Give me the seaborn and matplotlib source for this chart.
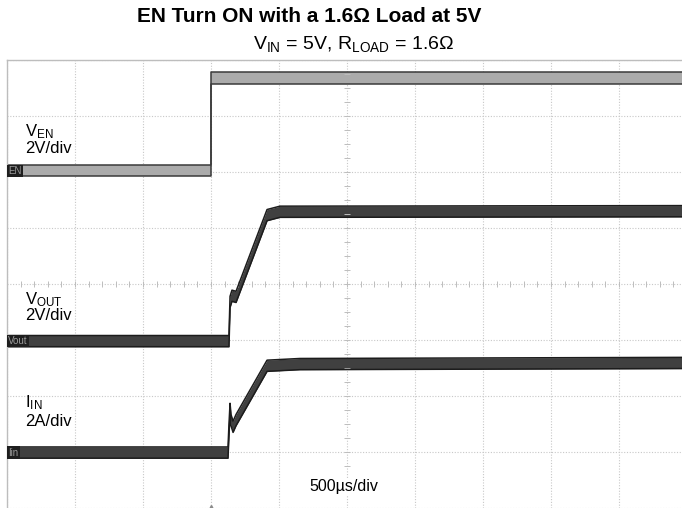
import numpy as np
import pandas as pd
import seaborn as sns
import matplotlib.pyplot as plt
import matplotlib.transforms as mtransforms

sns.set_style('white')
plt.rcParams['font.family'] = ['Liberation Sans', 'DejaVu Sans']
plt.rcParams['mathtext.fontset'] = 'custom'
plt.rcParams['mathtext.rm'] = 'Liberation Sans'
plt.rcParams['mathtext.it'] = 'Liberation Sans:italic'
plt.rcParams['mathtext.bf'] = 'Liberation Sans:bold'
plt.rcParams['text.color'] = 'black'

# scope screen: 500 us/div horizontally, values in divisions vertically
t_end = 4963

en_t = [0, 1500, 1500, t_end]
en_y = [6.02, 6.02, 7.68, 7.68]

vout_t = [0, 1632, 1640, 1654, 1684, 1912, 2007, t_end]
vout_y = [2.98, 2.98, 3.68, 3.79, 3.77, 5.23, 5.29, 5.30]

iin_t = [0, 1625, 1632, 1640, 1647, 1662, 1684, 1912, 2154, t_end]
iin_y = [0.99, 0.99, 1.39, 1.77, 1.57, 1.45, 1.57, 2.54, 2.57, 2.59]

fig = plt.figure(figsize=(6.82, 5.08), dpi=100)
ax = fig.add_axes([7 / 682, 0, 675 / 682, 448 / 508])
ax.set_xlim(0, t_end)
ax.set_ylim(0, 8)

# graticule
ax.set_xticks(np.arange(0, 5000, 500))
ax.set_yticks(np.arange(0, 9, 1))
ax.grid(True, linestyle=(0, (1, 1.5)), color='#c8c8c8', linewidth=0.8)
ax.tick_params(length=0, labelbottom=False, labelleft=False)
for s in ['right', 'bottom']:
    ax.spines[s].set_visible(False)
for s in ['top', 'left']:
    ax.spines[s].set_color('#bdbdbd')
    ax.spines[s].set_linewidth(1)
mx = np.arange(0, t_end, 100)
ax.plot(mx, np.full(len(mx), 4), ls='none', marker='|', ms=4, mew=0.7, color='#bdbdbd')
my = np.arange(0, 8, 0.25)
ax.plot(np.full(len(my), 2500), my, ls='none', marker='_', ms=4, mew=0.7, color='#bdbdbd')

hw = 0.1
traces = [
    (en_t, en_y, '#ababab', '#3a3a3a'),
    (vout_t, vout_y, '#404040', '#1c1c1c'),
    (iin_t, iin_y, '#404040', '#1c1c1c'),
]
for t, y, fill, edge in traces:
    d = pd.DataFrame({'t': t, 'y': y})
    d['hi'] = d['y'] + hw
    d['lo'] = d['y'] - hw
    ax.fill_between(d['t'], d['lo'], d['hi'], color=fill, lw=0)
    sns.lineplot(data=d, x='t', y='hi', sort=False, estimator=None, color=edge, lw=1.1, ax=ax)
    sns.lineplot(data=d, x='t', y='lo', sort=False, estimator=None, color=edge, lw=1.1, ax=ax)
ax.set_xlabel('')
ax.set_ylabel('')

# channel markers on the left edge
trans = mtransforms.blended_transform_factory(ax.transAxes, ax.transData)
for name, yv in [('EN', en_y[0]), ('Vout', vout_y[0]), ('Iin', iin_y[0])]:
    ax.text(0.002, yv, name, transform=trans, ha='left', va='center', fontsize=7,
            color='#9a9a9a', bbox=dict(boxstyle='square,pad=0.12', fc='#1e1e1e', ec='none'))

# trigger marker
ax.plot([1500], [-0.07], marker='^', ms=10, color='#8a8a8a', clip_on=True)

def fy(p):
    return 1 - p / 508

fig.text(25 / 682, fy(132), r'V$_{\mathrm{EN}}$', fontsize=12, va='center')
fig.text(25 / 682, fy(149), '2V/div', fontsize=12, va='center')
fig.text(25 / 682, fy(300), r'V$_{\mathrm{OUT}}$', fontsize=12, va='center')
fig.text(25 / 682, fy(315), '2V/div', fontsize=12, va='center')
fig.text(25 / 682, fy(403), r'I$_{\mathrm{IN}}$', fontsize=12, va='center')
fig.text(25 / 682, fy(421), '2A/div', fontsize=12, va='center')
fig.text(344 / 682, fy(487), '500µs/div', fontsize=11.5, ha='center', va='center',
         bbox=dict(boxstyle='square,pad=0.1', fc='white', ec='none'))

fig.text(309 / 682, fy(17), 'EN Turn ON with a 1.6Ω Load at 5V', fontsize=15,
         fontweight='bold', ha='center', va='center')
fig.text(354 / 682, fy(44), r'V$_{\mathrm{IN}}$ = 5V, R$_{\mathrm{LOAD}}$ = 1.6Ω', fontsize=14,
         ha='center', va='center')

fig.savefig('out.png', dpi=100)
